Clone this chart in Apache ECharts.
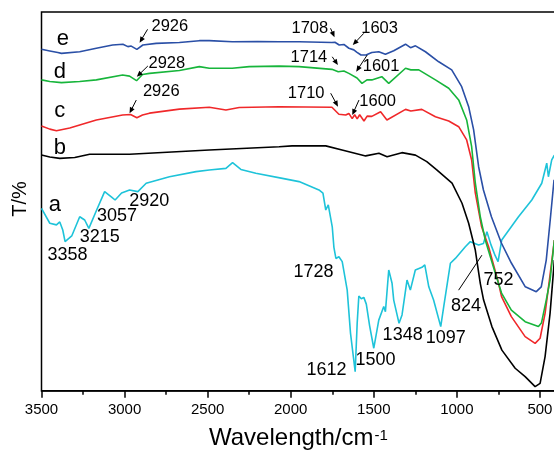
<!DOCTYPE html>
<html>
<head>
<meta charset="utf-8">
<script src="https://cdn.jsdelivr.net/npm/echarts@6/dist/echarts.min.js"></script>
<style>
  html, body { margin: 0; padding: 0; background: #fff; }
  #chart { width: 554px; height: 450px; }
</style>
</head>
<body>
<div id="chart"></div>
<script>
// FTIR spectra, wavenumber (cm-1) vs transmittance (arbitrary offset units)
const waveA = [3500,3450,3410,3390,3372,3358,3318,3270,3240,3215,
  3168,3120,3078,3057,3018,2970,2920,2870,2730,2570,
  2490,2390,2350,2300,2210,2050,1950,1830,1806,1789,
  1774,1750,1740,1728,1710,1690,1660,1640,1612,1600,
  1590,1575,1560,1545,1525,1500,1470,1440,1430,1410,
  1390,1380,1348,1330,1300,1280,1250,1210,1193,1169,
  1140,1097,1079,1039,1009,949,919,869,840,819,
  795,770,752,730,629,549,489,459,449,429,413];
const transA = [6.74,6.19,6.13,6.24,5.94,5.51,5.72,6.43,6.31,6.00,
  6.68,7.36,7.16,7.05,7.31,7.42,7.36,7.67,7.91,8.10,
  8.16,8.22,8.43,8.18,8.04,7.85,7.73,7.42,7.30,6.68,
  6.87,6.06,5.30,4.89,4.95,4.77,3.72,2.12,0.70,2.49,
  3.50,3.40,3.45,3.20,2.40,1.57,2.61,3.11,2.92,4.46,
  3.97,3.35,2.49,2.80,4.09,3.72,4.46,4.56,4.65,3.84,
  3.35,2.37,3.11,4.71,4.89,5.32,5.51,5.39,5.44,5.88,
  5.40,5.00,4.77,5.57,6.43,7.05,7.67,8.41,7.91,8.53,8.71];

const waveB = [3500,3450,3390,3300,3210,2970,2490,2070,1992,1789,
  1691,1620,1549,1469,1420,1331,1249,1181,1121,1029,
  969,929,889,859,839,789,729,649,589,529,
  499,469,439,413];
const transB = [8.71,8.64,8.59,8.62,8.74,8.74,8.90,9.02,9.05,9.05,
  8.90,8.79,8.68,8.78,8.65,8.80,8.71,8.47,8.16,7.67,
  6.93,6.19,5.20,3.97,3.35,2.37,1.50,0.83,0.52,0.15,
  0.27,1.26,2.86,4.83];

const waveC = [3500,3450,3410,3330,3170,3012,2964,2926,2892,2850,
  2670,2490,2390,2310,2070,1752,1710,1669,1650,1630,
  1615,1600,1585,1559,1540,1512,1459,1421,1309,1277,
  1211,1129,1049,989,941,911,889,851,809,749,
  731,672,589,529,499,469,443,413];
const transC = [9.79,9.67,9.61,9.71,10.01,10.19,10.21,10.09,10.19,10.26,
  10.41,10.48,10.38,10.47,10.50,10.48,10.22,10.19,10.25,10.06,
  10.20,10.05,10.20,9.97,10.15,10.14,10.31,10.01,10.40,10.34,
  10.40,10.13,9.97,9.76,9.27,8.53,7.31,6.06,5.32,3.97,
  3.48,2.74,2.00,1.75,1.94,2.86,4.09,5.57];

const waveD = [3500,3450,3380,3270,3170,3012,2970,2928,2892,2850,
  2670,2550,2490,2352,2250,2070,1950,1752,1714,1680,
  1650,1601,1571,1541,1512,1452,1410,1309,1277,1229,
  1129,1049,989,941,911,889,859,829,769,731,
  672,589,509,491,462,439,413];
const transD = [11.49,11.43,11.39,11.43,11.49,11.67,11.63,11.46,11.69,11.73,
  11.84,11.98,11.92,11.92,11.98,12.00,11.98,11.88,11.79,11.82,
  11.73,11.56,11.36,11.49,11.49,11.61,11.36,11.92,11.86,11.86,
  11.49,11.18,10.75,10.01,9.02,7.68,6.43,5.57,4.35,3.61,
  2.98,2.55,2.37,2.50,3.35,4.09,5.57];

const waveE = [3500,3450,3402,3380,3270,3170,3072,3010,2980,2960,
  2926,2890,2810,2670,2550,2490,2352,2200,2070,1950,
  1752,1734,1708,1680,1650,1620,1603,1577,1547,1512,
  1470,1430,1380,1309,1279,1249,1189,1109,1031,971,
  929,899,869,840,792,732,672,588,522,492,
  462,438,415];
const transE = [12.62,12.56,12.50,12.47,12.53,12.66,12.78,12.81,12.72,12.74,
  12.62,12.78,12.84,12.87,12.94,12.94,12.90,12.91,12.90,12.90,
  12.87,12.88,12.78,12.80,12.66,12.60,12.52,12.41,12.41,12.50,
  12.53,12.44,12.57,12.81,12.68,12.75,12.53,12.16,11.86,11.24,
  10.50,9.64,8.28,7.42,6.43,5.46,4.72,3.84,3.66,3.84,
  4.83,6.31,7.80];

const xTicks = { min: 0, max: 3500, step: 500 };
const yTicks = { min: 0, max: 14, step: 1 };

const FONT = 'Arial, "Liberation Sans", Helvetica, sans-serif';

const curves = {
  a: { wave: waveA, trans: transA, color: '#1ec3d9' },
  b: { wave: waveB, trans: transB, color: '#000000' },
  c: { wave: waveC, trans: transC, color: '#f0282a' },
  d: { wave: waveD, trans: transD, color: '#17b53b' },
  e: { wave: waveE, trans: transE, color: '#2a4fa6' }
};
const drawOrder = ['a', 'b', 'c', 'd', 'e'];

// Peak labels: curve, wavenumber, text offset and optional arrow (tail, head) in px
const peakNotes = [
  { c: 'e', wn: 2926, t: [33, -23],    arrow: [[10.7, -20], [2.7, -6.6]] },
  { c: 'e', wn: 1708, t: [-29.4, -16.7], arrow: [[-8.7, -16.7], [-4.7, -7.7]] },
  { c: 'e', wn: 1603, t: [22.9, -23.7], arrow: [[7.1, -18.7], [-3.9, -7]] },
  { c: 'd', wn: 2928, t: [30.3, -17.4], arrow: [[11.3, -14.7], [0.3, -4]] },
  { c: 'd', wn: 1714, t: [-29.3, -14.4], arrow: [[-6, -15], [-0.3, -6.7]] },
  { c: 'd', wn: 1601, t: [24.1, -11.3], arrow: [[10.2, -23], [-0.8, -6.3]] },
  { c: 'c', wn: 2926, t: [24.4, -26],  arrow: [[-0.6, -17.7], [-7.3, -4.4]] },
  { c: 'c', wn: 1710, t: [-32.7, -21], arrow: [[-8.2, -21], [-0.9, -7.6]] },
  { c: 'c', wn: 1600, t: [20.5, -17.8], arrow: [[1.8, -18.8], [-4.9, -3.8]] },
  { c: 'a', wn: 3358, t: [2.4, 13.3] },
  { c: 'a', wn: 3215, t: [10.8, 9] },
  { c: 'a', wn: 3057, t: [2, 16] },
  { c: 'a', wn: 2920, t: [11.4, 9] },
  { c: 'a', wn: 1728, t: [-22.4, 13.4] },
  { c: 'a', wn: 1612, t: [-28.7, -1.7] },
  { c: 'a', wn: 1500, t: [1.8, 11.7] },
  { c: 'a', wn: 1348, t: [3.6, 11.6] },
  { c: 'a', wn: 1097, t: [5, 11.7] },
  { c: 'a', wn: 824,  t: [-20.2, 71.7], leader: [[-27.5, 55.7], [-4.2, 20.7]] },
  { c: 'a', wn: 752,  t: [0.5, 18.3] }
];
// Curve letters next to the start of each trace
const curveTags = [
  { c: 'e', t: [21.3, -10] },
  { c: 'd', t: [18.3, -8.3] },
  { c: 'c', t: [18.3, -15.3] },
  { c: 'b', t: [18.3, -6.7] },
  { c: 'a', t: [13.3, -3.3] }
];

function pairs(w, t) { return w.map((x, i) => [x, t[i]]); }

// linear lookup along a trace (wavenumbers descending)
function valueAt(curve, wn) {
  const w = curve.wave, t = curve.trans;
  for (let i = 0; i < w.length - 1; i++) {
    if (wn <= w[i] && wn >= w[i + 1]) {
      const f = (w[i] - wn) / (w[i] - w[i + 1]);
      return t[i] + f * (t[i + 1] - t[i]);
    }
  }
  return t[t.length - 1];
}

const chart = echarts.init(document.getElementById('chart'), null, { renderer: 'canvas' });

chart.setOption({
  animation: false,
  backgroundColor: '#fff',
  grid: {
    left: 41.5, top: 12, width: 581.5, height: 378.7,
    outerBoundsMode: 'none',
    containLabel: false,
    show: true, borderColor: '#000', borderWidth: 1.5, backgroundColor: 'transparent'
  },
  xAxis: {
    type: 'value', min: xTicks.min, max: xTicks.max, interval: xTicks.step, inverse: true,
    axisLine: { show: true, lineStyle: { color: '#000', width: 1.5 } },
    axisTick: { show: true, inside: false, length: 7, lineStyle: { color: '#000', width: 1.5 } },
    minorTick: { show: true, splitNumber: 2, length: 4, lineStyle: { color: '#000', width: 1.5 } },
    axisLabel: { color: '#000', fontSize: 15, fontFamily: FONT, margin: 12, formatter: v => String(v) },
    splitLine: { show: false },
    minorSplitLine: { show: false }
  },
  yAxis: {
    type: 'value', min: yTicks.min, max: yTicks.max, interval: yTicks.step,
    axisLine: { show: true, lineStyle: { color: '#000', width: 1.5 } },
    axisTick: { show: true, inside: true, length: 4, lineStyle: { color: '#000', width: 1.3 } },
    axisLabel: { show: false },
    splitLine: { show: false }
  },
  series: drawOrder.map((k, i) => ({
    name: k,
    type: 'line',
    data: pairs(curves[k].wave, curves[k].trans),
    showSymbol: false,
    symbol: 'none',
    silent: true,
    z: 2 + i,
    lineStyle: { color: curves[k].color, width: 1.6 },
    itemStyle: { color: curves[k].color }
  }))
});

function toPx(wn, v) { return chart.convertToPixel({ gridIndex: 0 }, [wn, v]); }

function textEl(x, y, str, size, extra) {
  return Object.assign({
    type: 'text', x: x, y: y, z: 50,
    style: { text: str, fill: '#000', fontSize: size, fontFamily: FONT, align: 'center', verticalAlign: 'middle' }
  }, extra || {});
}

function arrowEls(x1, y1, x2, y2, withHead) {
  const els = [];
  const dx = x2 - x1, dy = y2 - y1, len = Math.hypot(dx, dy);
  const ux = dx / len, uy = dy / len;
  const headLen = withHead ? 6 : 0, headW = 2.6;
  els.push({
    type: 'line', z: 50,
    shape: { x1: x1, y1: y1, x2: x2 - ux * headLen * 0.8, y2: y2 - uy * headLen * 0.8 },
    style: { stroke: '#000', lineWidth: 1 }
  });
  if (withHead) {
    const bx = x2 - ux * headLen, by = y2 - uy * headLen;
    els.push({
      type: 'polygon', z: 50,
      shape: { points: [[x2, y2], [bx - uy * headW, by + ux * headW], [bx + uy * headW, by - ux * headW]] },
      style: { fill: '#000' }
    });
  }
  return els;
}

const graphics = [];

peakNotes.forEach(n => {
  const cv = curves[n.c];
  const p = toPx(n.wn, valueAt(cv, n.wn));
  const size = n.c === 'a' ? 18 : 16.5;
  graphics.push(textEl(p[0] + n.t[0], p[1] + n.t[1], String(n.wn), size));
  if (n.arrow) {
    graphics.push(...arrowEls(p[0] + n.arrow[0][0], p[1] + n.arrow[0][1], p[0] + n.arrow[1][0], p[1] + n.arrow[1][1], true));
  }
  if (n.leader) {
    graphics.push(...arrowEls(p[0] + n.leader[0][0], p[1] + n.leader[0][1], p[0] + n.leader[1][0], p[1] + n.leader[1][1], false));
  }
});

curveTags.forEach(tag => {
  const cv = curves[tag.c];
  const p = toPx(cv.wave[0], cv.trans[0]);
  graphics.push(textEl(p[0] + tag.t[0], p[1] + tag.t[1], tag.c, 22));
});

// axis titles
graphics.push(textEl(373.5, 438, 'Wavelength/cm', 24, {}));
graphics[graphics.length - 1].style.align = 'right';
graphics.push(textEl(374.5, 436, '-1', 15, {}));
graphics[graphics.length - 1].style.align = 'left';
graphics.push(textEl(20, 199, 'T/%', 20, { rotation: Math.PI / 2 }));

chart.setOption({ graphic: graphics });
</script>
</body>
</html>
